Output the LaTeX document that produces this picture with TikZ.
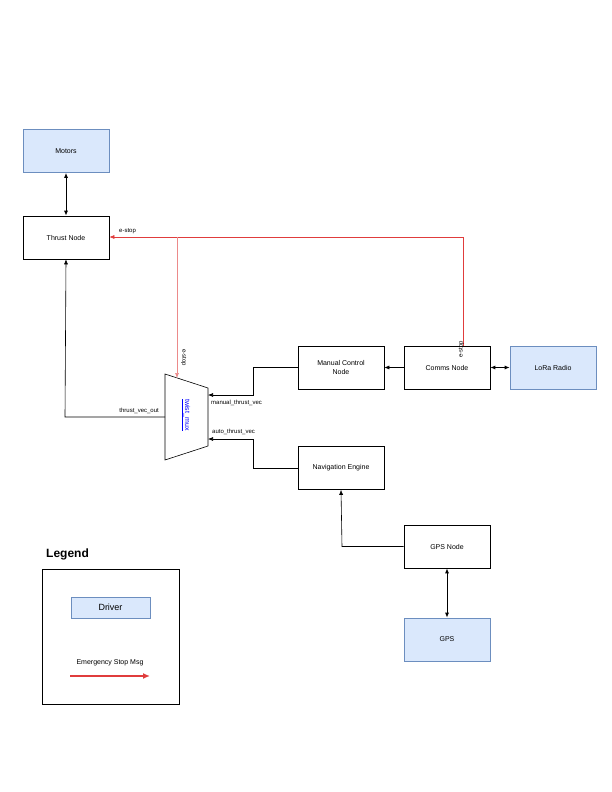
\documentclass[tikz,border=0pt]{standalone}
\usepackage{fontspec}
\setmainfont{Liberation Sans}
\usetikzlibrary{arrows.meta}
\definecolor{drv}{HTML}{DAE8FC}
\definecolor{drvb}{HTML}{6C8EBF}
\definecolor{estop}{HTML}{E03C3C}
\begin{document}
\begin{tikzpicture}[x=1pt,y=-1pt,
  box/.style={draw,line width=0.6pt,minimum width=86pt,minimum height=43pt,align=center,font=\fontsize{7}{8.5}\selectfont,inner sep=1pt},
  drvbox/.style={box,fill=drv,draw=drvb},
  conn/.style={line width=0.6pt,-{Latex[length=5pt,width=4pt]}},
  dbl/.style={line width=1pt,{Latex[length=5pt,width=4pt]}-{Latex[length=5pt,width=4pt]}},
  red/.style={conn,draw=estop},
  lbl/.style={font=\fontsize{6}{7}\selectfont,inner sep=1pt}]
\useasboundingbox (0,0) rectangle (612,792);
\node[drvbox] (motors) at (66,151) {Motors};
\node[box] (thrust) at (66,237.5) {Thrust Node};
\node[box] (manual) at (341,367.5) {Manual Control\\Node};
\node[box] (comms) at (447,367.5) {Comms Node};
\node[drvbox] (lora) at (553,367.5) {LoRa Radio};
\node[box] (nav) at (341,468) {Navigation Engine};
\node[box] (gpsn) at (447,546.5) {GPS Node};
\node[drvbox] (gps) at (447,639.5) {GPS};
% mux
\draw[line width=0.6pt] (165,374) -- (208,388) -- (208,446) -- (165,460) -- cycle;
\coordinate (muxtop) at (177,378);
\coordinate (muxin1) at (208,395);
\coordinate (muxin2) at (208,439);
\coordinate (muxout) at (165,417);
\node[rotate=-90,text=blue,font=\fontsize{7}{8}\selectfont,inner sep=0pt] (mux) at (186,415) {\underline{twist\_mux}};
% connections
\draw[dbl] (motors) -- (thrust);
\draw[dbl] (comms) -- (lora);
\draw[dbl] (gpsn) -- (gps);
\draw[conn] (comms) -- (manual);
\draw[conn] (manual.west) -- (253,367.5) -- (253,395) -- (muxin1);
\draw[conn] (nav.west) -- (253,468) -- (253,439) -- (muxin2);
\draw[conn] (gpsn.west) -- (342,546.5) -- (nav.south);
\draw[conn] (muxout) -- (65,417) -- (thrust.south);
\coordinate (brk) at (177,237);
\draw[red] (463,346) -- (463,237) -- (thrust.east |- brk);
\draw[red,draw=estop!60] (brk) -- (muxtop);
\node[lbl,anchor=south west] at (118,235) {e-stop};
\node[lbl,rotate=-90,anchor=south west] at (180,348) {e-stop};
\node[lbl,rotate=90,anchor=south east] at (465,340) {e-stop};
\node[lbl,anchor=south east] at (160,415) {thrust\_vec\_out};
\node[lbl,anchor=north west] at (210,399) {manual\_thrust\_vec};
\node[lbl,anchor=south west] at (211,436) {auto\_thrust\_vec};
% legend
\node[font=\bfseries\fontsize{12}{14}\selectfont,anchor=west,inner sep=0pt] (leg) at (46,554) {Legend};
\draw[line width=0.6pt] (42,569) rectangle (179,704);
\node[drvbox,minimum width=79pt,minimum height=21pt,font=\fontsize{9}{10}\selectfont] (drv) at (110.5,607.5) {Driver};
\node[font=\fontsize{7}{8}\selectfont,inner sep=0pt] (esm) at (110,663) {Emergency Stop Msg};
\coordinate (la) at (70,676);
\coordinate (lb) at (150,676);
\draw[line width=1.5pt,draw=estop,-{Latex[length=7pt,width=6pt]}] (la) -- (lb);
\end{tikzpicture}
\end{document}
